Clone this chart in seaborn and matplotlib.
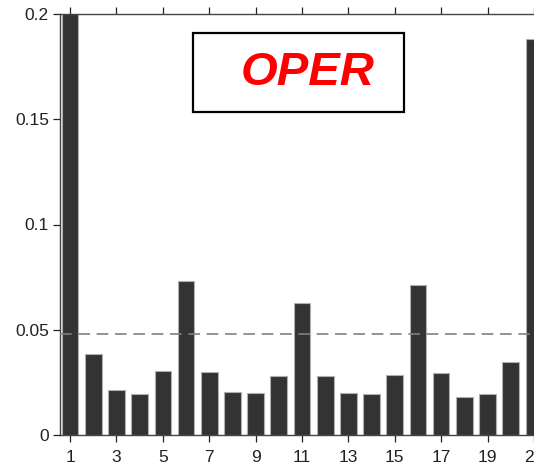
import numpy as np
import pandas as pd
import matplotlib
matplotlib.use("Agg")
import matplotlib.pyplot as plt
import matplotlib.patches as mpatches
import seaborn as sns

# bar heights (index 1..21)
members = list(range(1, 22))
freq = [0.250, 0.0383, 0.0212, 0.0196, 0.0304, 0.0732, 0.0298, 0.0204, 0.0200, 0.0279,
        0.0627, 0.0279, 0.0200, 0.0196, 0.0285, 0.0713, 0.0295, 0.0179, 0.0193, 0.0347,
        0.188]
uniform_level = 0.0478
tick_members = list(range(1, 22, 2))
title_text = "OPER"

df = pd.DataFrame({"member": members, "freq": freq})

sns.set_style("ticks")
plt.rcParams["font.family"] = ["Liberation Sans", "DejaVu Sans"]

fig = plt.figure(figsize=(5.34, 4.66), dpi=100)
ax = fig.add_axes([60 / 534, 31 / 466, 484 / 534, 421 / 466])

sns.barplot(data=df, x="member", y="freq", order=members, color="#333333",
            saturation=1, width=0.72, edgecolor="#b0b0b0", linewidth=0.8, ax=ax)

ax.axhline(uniform_level, color="#808080", linestyle=(0, (7, 4)), linewidth=1.2, zorder=3)

ax.set_ylim(0, 0.2)
ax.set_xlim(-0.435, 20.435)
ax.set_yticks([0, 0.05, 0.1, 0.15, 0.2])
ax.set_yticklabels(["0", "0.05", "0.1", "0.15", "0.2"])
ax.set_xticks([m - 1 for m in tick_members])
ax.set_xticklabels([str(m) for m in tick_members])
ax.set_xlabel("")
ax.set_ylabel("")

for side in ["left", "top", "bottom", "right"]:
    ax.spines[side].set_color("#444444")
    ax.spines[side].set_linewidth(1.0)

ax.tick_params(axis="both", labelsize=12.5, colors="#222222", length=5, width=0.9)
ax.tick_params(axis="x", top=True, labeltop=False, pad=6)
ax.tick_params(axis="y", pad=3)

# label box
box = mpatches.Rectangle((0.2748, 0.767), 0.4359, 0.188, transform=ax.transAxes,
                         facecolor="white", edgecolor="black", linewidth=1.6, zorder=5)
ax.add_patch(box)
ax.text(0.512, 0.86, title_text, transform=ax.transAxes, ha="center", va="center",
        color="red", fontsize=34, fontweight="bold", fontstyle="italic", zorder=6)

fig.savefig("out.png", dpi=100)
